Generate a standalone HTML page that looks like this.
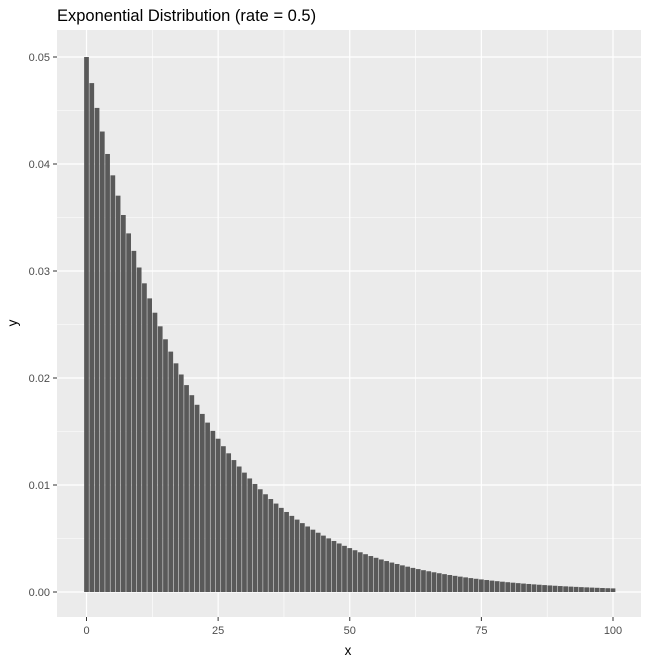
<!DOCTYPE html>
<html><head><meta charset="utf-8"><style>
body{margin:0;background:#fff;}
svg{display:block;font-family:"Liberation Sans",Arial,sans-serif;}
</style></head><body>
<svg id="chart" width="648" height="661" viewBox="0 0 648 661">
<text x="57" y="21" font-size="16.5" fill="#000">Exponential Distribution (rate = 0.5)</text>
<rect x="57" y="30" width="584" height="587" fill="#ebebeb"/>
<g id="grid"></g>
<g id="bars"></g>
<g id="axes"></g>
<text x="348" y="655" font-size="13.5" text-anchor="middle" fill="#000">x</text>
<text x="17" y="323" font-size="13.5" text-anchor="middle" fill="#000" transform="rotate(-90 17 323)">y</text>
</svg>
<script>
const categories=[];for(let i=0;i<=100;i++)categories.push(i);
const values=[0.05,0.047561,0.045242,0.043035,0.040937,0.038940,0.037041,0.035234,0.033516,0.031881,
0.030327,0.028848,0.027441,0.026102,0.024829,0.023618,0.022466,0.021371,0.020328,0.019337,
0.018394,0.017497,0.016643,0.015831,0.015059,0.014325,0.013626,0.012962,0.012330,0.011728,
0.011157,0.010612,0.010095,0.0096025,0.0091342,0.0086887,0.0082649,0.0078618,0.0074784,0.0071137,
0.0067668,0.0064367,0.0061228,0.0058242,0.0055401,0.0052699,0.0050129,0.0047684,0.0045359,0.0043147,
0.0041042,0.0039041,0.0037137,0.0035326,0.0033603,0.0031964,0.0030405,0.0028922,0.0027511,0.0026170,
0.0024894,0.0023679,0.0022525,0.0021426,0.0020381,0.0019387,0.0018442,0.0017542,0.0016687,0.0015873,
0.0015099,0.0014362,0.0013662,0.0012996,0.0012362,0.0011759,0.0011185,0.0010640,0.0010121,0.00096272,
0.00091578,0.00087112,0.00082863,0.00078822,0.00074978,0.00071321,0.00067843,0.00064534,0.00061387,0.00058393,
0.00055545,0.00052836,0.00050259,0.00047808,0.00045476,0.00043258,0.00041149,0.00039142,0.00037233,0.00035417,
0.00033690];
const yTicks=[0,0.01,0.02,0.03,0.04,0.05];
const yTickLabels=["0.00","0.01","0.02","0.03","0.04","0.05"];
const xTicks=[0,25,50,75,100];
const xTickLabels=["0","25","50","75","100"];
const yMinor=[0.005,0.015,0.025,0.035,0.045];
const xMinor=[12.5,37.5,62.5,87.5];

const X0=86.5,XS=(613-86.5)/100,Y0=592,YS=(592-57)/0.05;
const xs=v=>X0+v*XS, ys=v=>Y0-v*YS;
const NS="http://www.w3.org/2000/svg";
function mk(tag,attrs,parent){const e=document.createElementNS(NS,tag);for(const k in attrs)e.setAttribute(k,attrs[k]);parent.appendChild(e);return e;}
const grid=document.getElementById('grid'),bars=document.getElementById('bars'),axes=document.getElementById('axes');
yMinor.forEach(v=>{const l=mk('line',{x1:57,x2:641,y1:ys(v),y2:ys(v),stroke:'#fff','stroke-width':0.6},grid);

});
xMinor.forEach(v=>{const l=mk('line',{x1:xs(v),x2:xs(v),y1:30,y2:617,stroke:'#fff','stroke-width':0.6},grid);

});
yTicks.forEach((v,i)=>{const y=ys(v);
const l=mk('line',{x1:57,x2:641,y1:y,y2:y,stroke:'#fff','stroke-width':1.2},grid);


const t=mk('line',{x1:53,x2:57,y1:y,y2:y,stroke:'#333','stroke-width':1},axes);


const tx=mk('text',{x:50,y:y+4,'font-size':11,'text-anchor':'end',fill:'#4d4d4d'},axes);tx.textContent=yTickLabels[i];

});
xTicks.forEach((v,i)=>{const x=xs(v);
const l=mk('line',{x1:x,x2:x,y1:30,y2:617,stroke:'#fff','stroke-width':1.2},grid);


const t=mk('line',{x1:x,x2:x,y1:617,y2:621,stroke:'#333','stroke-width':1},axes);


const tx=mk('text',{x:x,y:634,'font-size':11,'text-anchor':'middle',fill:'#4d4d4d'},axes);tx.textContent=xTickLabels[i];

});
categories.forEach((c,i)=>{const w=0.9*XS;const top=ys(values[i]);
const r=mk('rect',{x:xs(c)-w/2,y:top,width:w,height:Y0-top,fill:'#595959'},bars);

});
</script>
</body></html>
